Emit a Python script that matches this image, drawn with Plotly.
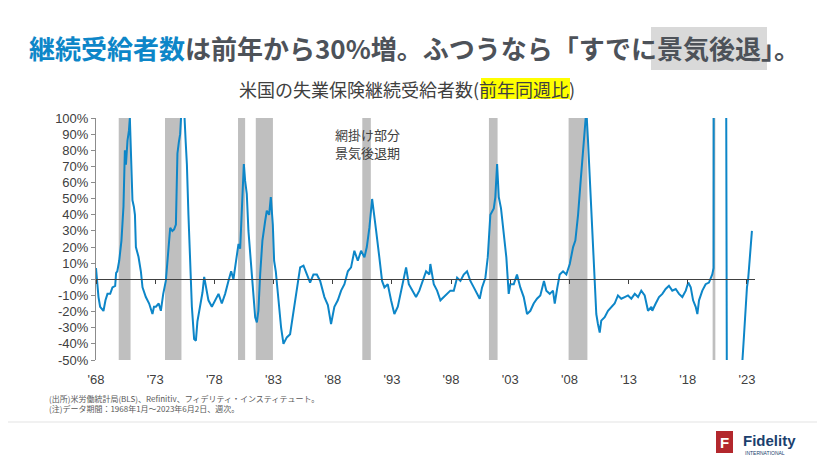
import plotly.graph_objects as go

W, H = 825, 464
OFF = 8  # the page body adds an 8px margin around the figure
L, R, T, B = 96 - OFF, 78, 118 - OFF, 112

BLUE = "#0d86c8"
DARK = "#4d5259"
TXT = "#404040"
JP = "Noto Sans CJK JP, Noto Sans, sans-serif"
LAT = "Liberation Sans, Arial, sans-serif"

# weekly continuing claims, y/y %
years = [
    1968.00, 1968.10, 1968.21, 1968.35, 1968.55, 1968.63, 1968.80, 1968.97, 1969.20, 1969.39,
    1969.62, 1969.70, 1969.80, 1969.96, 1970.15, 1970.32, 1970.44, 1970.53, 1970.66, 1970.78,
    1970.86, 1970.92, 1971.00, 1971.08, 1971.20, 1971.29, 1971.37, 1971.59, 1971.79, 1971.93,
    1972.21, 1972.49, 1972.77, 1972.90, 1973.06, 1973.30, 1973.48, 1973.68, 1973.90, 1974.10,
    1974.27, 1974.45, 1974.60, 1974.75, 1974.88, 1975.00, 1975.11, 1975.22, 1975.45, 1975.58,
    1975.68, 1975.81, 1975.96, 1976.10, 1976.29, 1976.44, 1976.57, 1976.70, 1976.86, 1977.00,
    1977.14, 1977.28, 1977.50, 1977.79, 1978.07, 1978.35, 1978.63, 1978.91, 1979.19, 1979.42,
    1979.61, 1979.90, 1980.04, 1980.18, 1980.32, 1980.49, 1980.60, 1980.74, 1980.88, 1981.02,
    1981.17, 1981.30, 1981.45, 1981.59, 1981.72, 1981.87, 1982.06, 1982.29, 1982.43, 1982.63,
    1982.77, 1982.94, 1983.05, 1983.19, 1983.41, 1983.64, 1983.84, 1984.12, 1984.40, 1984.68,
    1984.97, 1985.25, 1985.53, 1985.81, 1986.09, 1986.37, 1986.66, 1986.94, 1987.30, 1987.59,
    1987.86, 1988.14, 1988.43, 1988.71, 1988.99, 1989.28, 1989.55, 1989.83, 1990.12, 1990.40,
    1990.68, 1990.88, 1991.10, 1991.33, 1991.52, 1991.67, 1991.94, 1992.17, 1992.37, 1992.65,
    1992.93, 1993.21, 1993.50, 1993.78, 1993.97, 1994.20, 1994.43, 1994.77, 1995.04, 1995.32,
    1995.61, 1995.89, 1996.17, 1996.25, 1996.54, 1996.82, 1997.10, 1997.38, 1997.66, 1997.94,
    1998.23, 1998.51, 1998.79, 1999.07, 1999.35, 1999.63, 1999.92, 2000.20, 2000.42, 2000.62,
    2000.90, 2001.10, 2001.32, 2001.61, 2001.74, 2001.89, 2002.03, 2002.22, 2002.45, 2002.67,
    2002.87, 2003.01, 2003.30, 2003.57, 2003.85, 2004.14, 2004.42, 2004.70, 2004.98, 2005.26,
    2005.54, 2005.85, 2006.05, 2006.34, 2006.61, 2006.76, 2006.98, 2007.18, 2007.46, 2007.74,
    2008.03, 2008.31, 2008.50, 2008.73, 2008.95, 2009.15, 2009.29, 2009.43, 2009.57, 2009.80,
    2009.99, 2010.14, 2010.27, 2010.41, 2010.56, 2010.69, 2010.98, 2011.26, 2011.54, 2011.82,
    2012.10, 2012.38, 2012.67, 2012.95, 2013.23, 2013.52, 2013.80, 2014.07, 2014.36, 2014.64,
    2014.92, 2015.00, 2015.29, 2015.57, 2015.85, 2016.13, 2016.41, 2016.69, 2016.98, 2017.26,
    2017.54, 2017.83, 2018.04, 2018.25, 2018.45, 2018.67, 2018.81, 2018.95, 2019.23, 2019.51,
    2019.79, 2020.07, 2020.18, 2020.24, 2020.30, 2020.60, 2021.00, 2021.22, 2021.30, 2021.50,
    2022.00, 2022.40, 2022.62, 2022.75, 2022.88, 2023.00, 2023.10, 2023.25, 2023.42,
]
yoy = [
    7, -3, -11, -17, -19.5, -19.6, -13, -9, -9, -5,
    -4, 4, 5, 11.5, 24, 45, 80, 71, 86, 92,
    100, 85, 71, 49, 45, 40, 20, 14, 5, -5,
    -11, -15, -21.5, -17, -17, -15, -19.5, -9, -1, 20,
    32, 30, 31, 34, 78, 85, 90, 105, 105, 85,
    71, 40, 5, -17, -37, -38, -26, -20, -15, -8,
    1.5, -5, -13, -17, -13, -9, -15, -9, -1, 5,
    0, 15.7, 22, 19, 40, 71.5, 61, 53, 30, 15.7,
    1, -13, -23.5, -26.7, -19.5, 3, 24, 36, 42.5, 40,
    51, 34, 11.5, 5, -13, -30, -40, -36, -34, -19.5,
    -5, 7.4, 8.5, 3, -2, 3, 3, -1, -11, -16,
    -27.7, -17, -13, -7, -3, 5, 7.4, 17.7, 11.5, 17.7,
    13.6, 20, 32, 49.8, 40, 30, 13.6, -1, -5, -3,
    -13, -21.5, -17, -7, -1, 7.4, -3, -7, -11, -7,
    -1, 5, 3, 9.5, -3, -7, -13, -11, -9, -7,
    -7, 1, -1, 3, 5, -1, -5, -9, -12, -5,
    1, 13.6, 40, 44, 51, 71.5, 51, 44, 30, 13.6,
    -9, -3, -3, 3, -5, -11, -21.5, -19.5, -15, -12,
    -10, -1, -7, -9, -7, -15, -5, 3, 5, 3,
    9.5, 20, 24, 40, 61, 82, 98, 105, 86, 51,
    20, -1, -21.5, -27.7, -33, -25.6, -23.5, -19.5, -17, -15,
    -10, -12, -11, -10, -12, -9, -11, -7, -10, -19.5,
    -17, -19.5, -15, -11, -9, -6, -4, -7, -6, -9,
    -11, -7, -2, -5, -13, -17, -21.5, -13, -7, -3,
    -2, 3, 7, 600, 1500, 2200, 900, 300, -60, -85,
    -75, -58, -50, -35, -15, -5, 0, 14, 30,
]

# NBER recessions (shaded)
rec_start = [1969.92, 1973.83, 1980.00, 1981.50, 1990.50, 2001.20, 2007.93, 2020.10]
rec_end = [1970.92, 1975.22, 1980.60, 1982.95, 1991.22, 2001.93, 2009.52, 2020.33]

tick_years = [1968, 1973, 1978, 1983, 1988, 1993, 1998, 2003, 2008, 2013, 2018, 2023]
tick_text = ["'68", "'73", "'78", "'83", "'88", "'93", "'98", "'03", "'08", "'13", "'18", "'23"]
y_ticks = [-50, -40, -30, -20, -10, 0, 10, 20, 30, 40, 50, 60, 70, 80, 90, 100]

x_range = [1968.0, 2023.68]


def px_x(px):
    # screen pixel -> paper fraction
    return (px - OFF - L) / (W - L - R)


def px_y(py):
    return (H - B - (py - OFF)) / (H - T - B)


fig = go.Figure()

for x0, x1 in zip(rec_start, rec_end):
    fig.add_vrect(x0=x0, x1=x1, fillcolor="#bfbfbf", opacity=1, line_width=0, layer="below")

fig.add_trace(go.Scatter(
    x=years, y=yoy, mode="lines",
    line=dict(color=BLUE, width=2),
    hoverinfo="skip", showlegend=False,
))
# empty trace so the zero-line axis (x2) gets drawn
fig.add_trace(go.Scatter(x=[], y=[], xaxis="x2", showlegend=False, hoverinfo="skip"))

fig.update_layout(
    width=W, height=H,
    margin=dict(l=L, r=R, t=T, b=B, autoexpand=False),
    paper_bgcolor="white", plot_bgcolor="white",
    xaxis=dict(
        range=x_range, tickvals=tick_years, ticktext=tick_text,
        showline=False, ticks="", showgrid=False, zeroline=False,
        tickfont=dict(family=LAT, size=13, color=TXT),
        ticklabelstandoff=10,
    ),
    xaxis2=dict(
        overlaying="x", anchor="free", position=50 / 150, side="bottom",
        range=x_range, tickvals=tick_years, showticklabels=False,
        showline=True, linecolor=TXT, linewidth=1,
        ticks="outside", ticklen=4, tickcolor=TXT,
        showgrid=False, zeroline=False,
    ),
    yaxis=dict(
        range=[-50, 100], tickvals=y_ticks, ticktext=[f"{v}%" for v in y_ticks],
        showline=True, linecolor="#8c8c8c", linewidth=1,
        ticks="outside", ticklen=4, tickcolor="#8c8c8c",
        showgrid=False, zeroline=False,
        tickfont=dict(family=LAT, size=13, color=TXT),
    ),
)

# highlight boxes behind parts of the headings
fig.add_shape(type="rect", xref="paper", yref="paper",
              x0=px_x(651), x1=px_x(767), y0=px_y(70), y1=px_y(27),
              fillcolor="#d9d9d9", line_width=0, layer="below")
fig.add_shape(type="rect", xref="paper", yref="paper",
              x0=px_x(481), x1=px_x(570), y0=px_y(99), y1=px_y(78),
              fillcolor="#ffff00", line_width=0, layer="below")
# footer separator
fig.add_shape(type="line", xref="paper", yref="paper",
              x0=px_x(0), x1=px_x(W + OFF), y0=px_y(422), y1=px_y(422),
              line=dict(color="#e3e3e3", width=1))
# logo mark
fig.add_shape(type="rect", xref="paper", yref="paper",
              x0=px_x(716), x1=px_x(733), y0=px_y(453), y1=px_y(431),
              fillcolor="#b3282d", line_width=0)

title = (f"<b><span style='color:{BLUE}'>継続受給者数</span>"
         "は前年から30%増。ふつうなら「すでに景気後退」。</b>")
fig.add_annotation(text=title, xref="paper", yref="paper", x=px_x(414), y=px_y(47),
                   xanchor="center", yanchor="middle", showarrow=False,
                   font=dict(family=JP, size=26, color=DARK))
fig.add_annotation(text="米国の失業保険継続受給者数(前年同週比)", xref="paper", yref="paper",
                   x=px_x(407), y=px_y(89), xanchor="center", yanchor="middle", showarrow=False,
                   font=dict(family=JP, size=18, color=TXT))
fig.add_annotation(text="網掛け部分", xref="paper", yref="paper",
                   x=px_x(333), y=px_y(134), xanchor="left", yanchor="middle",
                   showarrow=False, font=dict(family=JP, size=13, color=TXT))
fig.add_annotation(text="景気後退期", xref="paper", yref="paper",
                   x=px_x(333), y=px_y(152), xanchor="left", yanchor="middle",
                   showarrow=False, font=dict(family=JP, size=13, color=TXT))
fig.add_annotation(
    text="(出所)米労働統計局(BLS)、Refinitiv、フィデリティ・インスティテュート。<br>"
         "(注)データ期間：1968年1月～2023年6月2日、週次。",
    xref="paper", yref="paper", x=px_x(47), y=px_y(403), xanchor="left", yanchor="middle",
    align="left", showarrow=False, font=dict(family=JP, size=8, color="#595959"))
fig.add_annotation(text="<b>F</b>", xref="paper", yref="paper", x=px_x(724.5), y=px_y(442),
                   xanchor="center", yanchor="middle", showarrow=False,
                   font=dict(family=LAT, size=15, color="white"))
fig.add_annotation(text="<b>Fidelity</b>", xref="paper", yref="paper", x=px_x(741), y=px_y(440),
                   xanchor="left", yanchor="middle", showarrow=False,
                   font=dict(family=LAT, size=15, color="#1b3f6e"))
fig.add_annotation(text="INTERNATIONAL", xref="paper", yref="paper", x=px_x(743), y=px_y(453),
                   xanchor="left", yanchor="middle", showarrow=False,
                   font=dict(family=LAT, size=5, color="#1b3f6e"))

fig.write_html("out.html")
